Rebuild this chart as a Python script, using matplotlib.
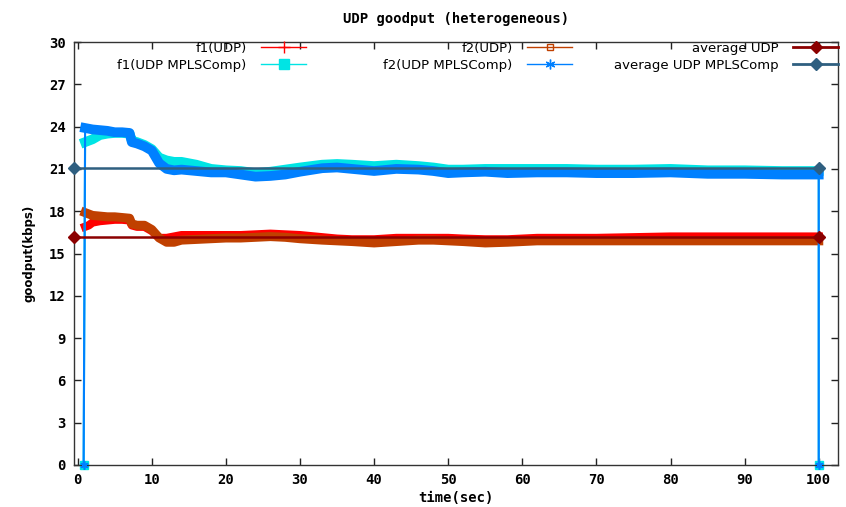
import matplotlib
matplotlib.use("Agg")
import matplotlib.pyplot as plt
from matplotlib.lines import Line2D

# time axis (sec) for the two MPLSComp flows, zero points at both ends
t_mpls = [0.8, 1, 2, 3, 4, 5, 6, 7, 7.3, 8, 9, 10, 11, 12, 13, 14, 16, 18, 20,
          22, 24, 26, 28, 30, 33, 35, 37, 40, 43, 46, 48, 50, 52, 55, 58, 62,
          66, 70, 75, 80, 85, 90, 95, 100, 100]
f1_mpls = [0, 22.9, 23.1, 23.4, 23.5, 23.55, 23.55, 23.5, 23.0, 22.9, 22.7,
           22.4, 21.8, 21.6, 21.5, 21.5, 21.3, 21.0, 20.9, 20.85, 20.7, 20.8,
           20.95, 21.1, 21.3, 21.35, 21.3, 21.2, 21.3, 21.2, 21.1, 20.95,
           20.95, 21.0, 21.0, 21.0, 21.0, 20.95, 20.95, 21.0, 20.9, 20.9,
           20.85, 20.85, 0]
f2_mpls = [0, 23.9, 23.8, 23.75, 23.7, 23.6, 23.6, 23.55, 22.9, 22.8, 22.6,
           22.3, 21.4, 21.0, 20.9, 20.95, 20.85, 20.75, 20.75, 20.6, 20.45,
           20.5, 20.6, 20.8, 21.05, 21.1, 21.0, 20.85, 21.0, 20.95, 20.85,
           20.7, 20.75, 20.8, 20.7, 20.75, 20.75, 20.7, 20.7, 20.75, 20.65,
           20.65, 20.6, 20.6, 0]

# time axis for the plain UDP flows
t_udp = [1, 1.5, 2, 3, 4, 5, 6, 7, 7.3, 8, 9, 10, 11, 12, 13, 14, 16, 18, 20,
         22, 24, 26, 28, 30, 33, 35, 37, 40, 43, 46, 48, 50, 52, 55, 58, 62,
         66, 70, 75, 80, 85, 90, 95, 100]
f1_udp = [16.9, 17.0, 17.2, 17.3, 17.35, 17.4, 17.4, 17.35, 17.0, 16.9, 16.9,
          16.6, 16.1, 16.1, 16.2, 16.3, 16.3, 16.3, 16.3, 16.3, 16.35, 16.4,
          16.35, 16.3, 16.15, 16.05, 16.0, 16.0, 16.1, 16.1, 16.1, 16.1,
          16.05, 16.0, 16.0, 16.1, 16.1, 16.1, 16.15, 16.2, 16.2, 16.2, 16.2,
          16.2]
f2_udp = [17.9, 17.8, 17.7, 17.65, 17.6, 17.6, 17.55, 17.5, 17.1, 17.0, 17.0,
          16.7, 16.1, 15.8, 15.8, 15.95, 16.0, 16.05, 16.1, 16.1, 16.15, 16.2,
          16.15, 16.05, 15.95, 15.9, 15.85, 15.75, 15.85, 15.95, 15.95, 15.9,
          15.85, 15.75, 15.8, 15.9, 15.9, 15.9, 15.9, 15.9, 15.9, 15.9, 15.9,
          15.9]

avg_x = [-0.5, 100]
avg_udp = [16.15, 16.15]
avg_mpls = [21.05, 21.05]

x_ticks = list(range(0, 101, 10))
y_ticks = list(range(0, 31, 3))

c_f1, c_f2 = '#ff0000', '#c04000'
c_f1m, c_f2m = '#00e4e4', '#0080ff'
c_avg, c_avgm = '#8b0000', '#2f5f80'

mono = {'family': 'DejaVu Sans Mono', 'weight': 'bold'}

fig = plt.figure(figsize=(8.46, 5.07), dpi=100)
ax = fig.add_axes([74 / 846, 1 - 465 / 507, (838 - 74) / 846, (465 - 42) / 507])

# thick bands (many dense points in the original)
ax.plot(t_udp, f1_udp, color=c_f1, lw=6, zorder=2)
ax.plot(t_mpls, f1_mpls, color=c_f1m, lw=1.5, zorder=2, clip_on=False,
        marker='s', ms=6, markevery=[0, len(t_mpls) - 1])
ax.plot(t_mpls[1:-1], f1_mpls[1:-1], color=c_f1m, lw=7, zorder=2)
ax.plot(t_udp, f2_udp, color=c_f2, lw=6.5, zorder=3)
ax.plot(t_mpls, f2_mpls, color=c_f2m, lw=1.5, zorder=3, clip_on=False,
        marker=(6, 2, 0), ms=6, mew=1.2, markevery=[0, len(t_mpls) - 1])
ax.plot(t_mpls[1:-1], f2_mpls[1:-1], color=c_f2m, lw=7, zorder=3)
ax.plot(avg_x, avg_udp, color=c_avg, lw=1.8, marker='D', ms=6, zorder=4,
        clip_on=False)
ax.plot(avg_x, avg_mpls, color=c_avgm, lw=1.8, marker='D', ms=6, zorder=4,
        clip_on=False)

ax.set_xlim(-0.5, 102.6)
ax.set_ylim(0, 30)
ax.set_xticks(x_ticks)
ax.set_yticks(y_ticks)
ax.tick_params(direction='in', length=5, width=1, top=True, right=True,
               labelsize=10, pad=6, color='#222222')
for lab in ax.get_xticklabels() + ax.get_yticklabels():
    lab.set_fontfamily('DejaVu Sans Mono')
    lab.set_fontweight('bold')
for s in ax.spines.values():
    s.set_color('#333333')
    s.set_linewidth(1)

ax.set_title('UDP goodput (heterogeneous)', fontdict=mono, fontsize=10, pad=14)
ax.set_xlabel('time(sec)', fontdict=mono, fontsize=10, labelpad=3)
ax.set_ylabel('goodput(kbps)', fontsize=8.5, fontweight='bold', labelpad=10)

# legend: three right-aligned columns like gnuplot's key
cols = [
    ([Line2D([], [], color=c_f1, lw=1, marker='+', ms=8),
      Line2D([], [], color=c_f1m, lw=1, marker='s', ms=7)],
     ['f1(UDP)', 'f1(UDP MPLSComp)'], 306),
    ([Line2D([], [], color=c_f2, lw=1, marker='s', ms=5, mfc='none'),
      Line2D([], [], color=c_f2m, lw=1, marker=(6, 2, 0), ms=7)],
     ['f2(UDP)', 'f2(UDP MPLSComp)'], 572),
    ([Line2D([], [], color=c_avg, lw=2, marker='D', ms=6),
      Line2D([], [], color=c_avgm, lw=2, marker='D', ms=6)],
     ['average UDP', 'average UDP MPLSComp'], 838),
]
for handles, labels, xr in cols:
    leg = fig.legend(handles, labels, loc='upper right',
                     bbox_to_anchor=(xr / 846, 1 - 42 / 507),
                     markerfirst=False, alignment='right', frameon=False,
                     fontsize=9.5, handlelength=3.4, handletextpad=1.1,
                     labelspacing=0.28, borderpad=0, borderaxespad=0)

fig.savefig('out.png', dpi=100)
